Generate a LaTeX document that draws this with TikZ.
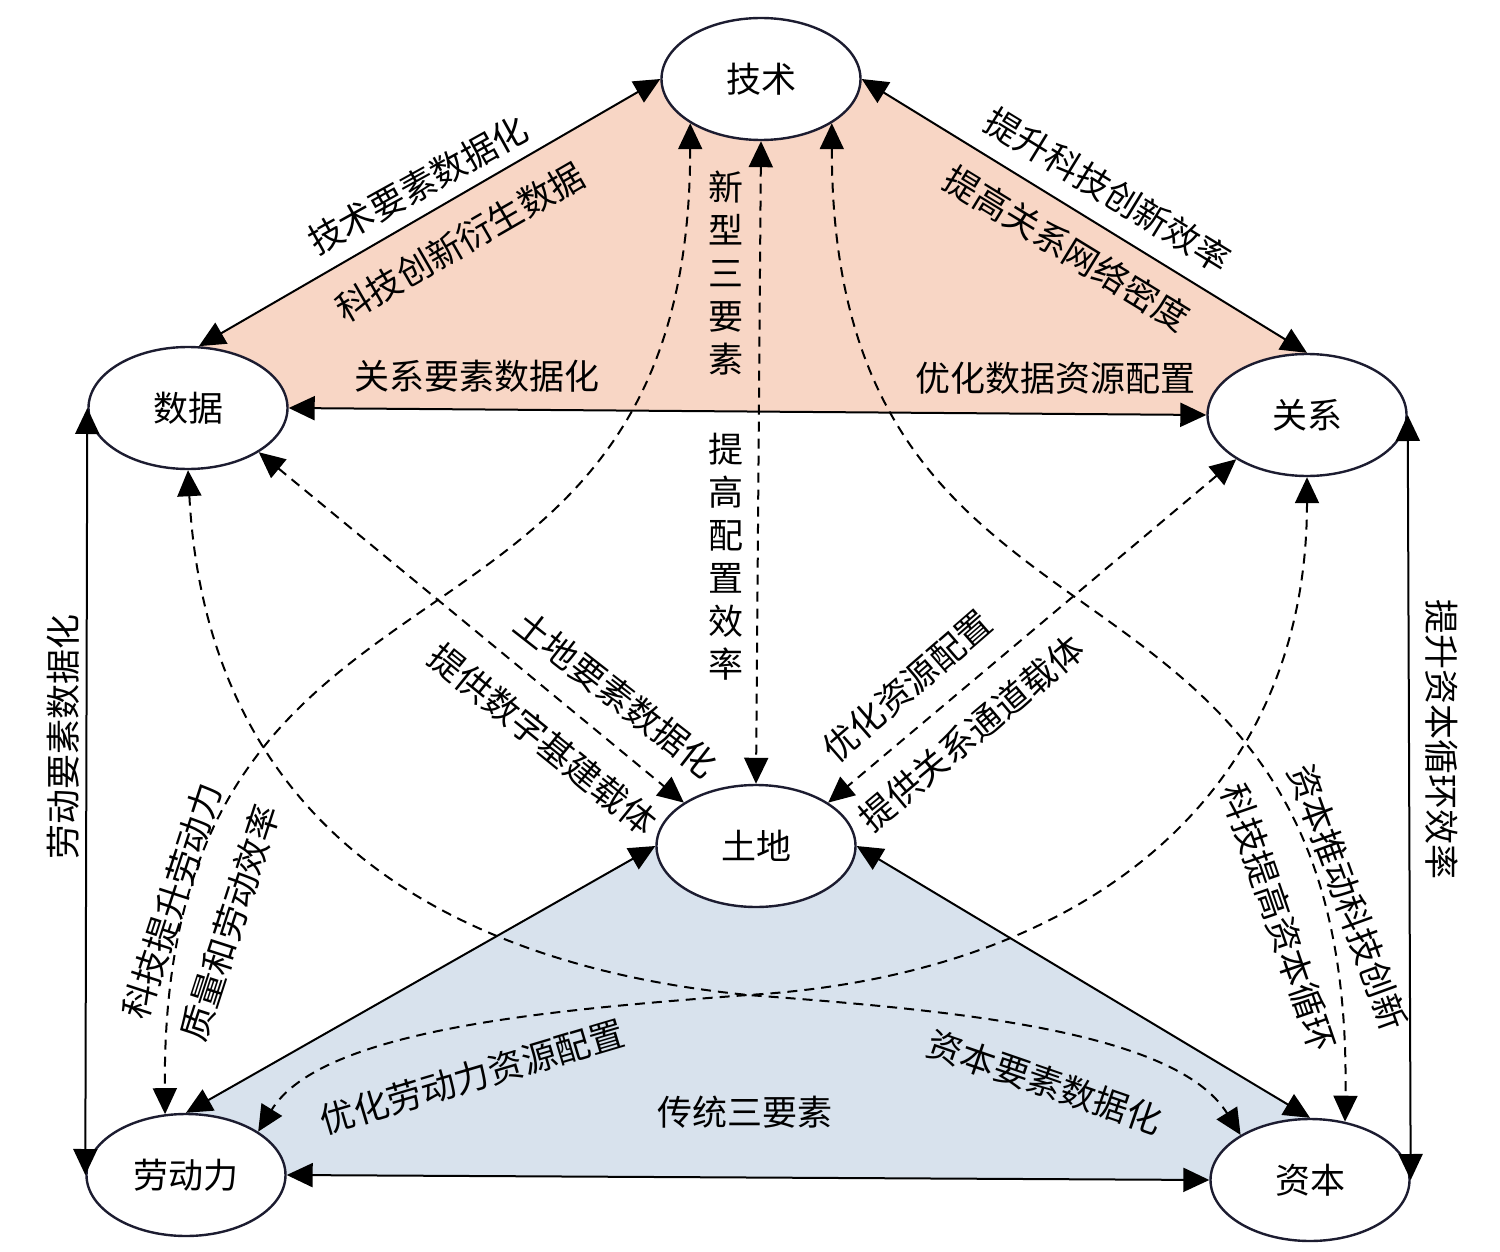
\documentclass[tikz,border=0pt]{standalone}
\usepackage{fontspec}
\newfontfamily\cjk{Noto Sans CJK SC}
\usetikzlibrary{arrows.meta,shapes.geometric,backgrounds}
\definecolor{fenhong}{RGB}{248,214,197}
\definecolor{danlan}{RGB}{216,226,237}
\definecolor{moshen}{RGB}{28,28,48}
\tikzset{
    >={Triangle[length=13pt,width=12pt]},
    ysq/.style={
        elem/.append style={ellipse,draw=moshen,line width=1.2pt,fill=white,minimum width=99.5pt,minimum height=61pt,inner sep=0pt,font=\cjk\fontsize{17.5}{21}\selectfont},
        lbl/.append style={inner sep=0pt,font=\cjk\fontsize{17.5}{21}\selectfont},
        vlbl/.append style={inner sep=0pt,align=center,font=\cjk\fontsize{17.5}{21.5}\selectfont},
        link/.append style={<->,line width=1pt},
        dlink/.append style={<->,line width=1pt,dash pattern=on 5pt off 3.5pt},
        every edge/.append style={draw}
    }
}
\begin{document}
\begin{tikzpicture}[ysq,x=0.5pt,y=-0.5pt]
    \useasboundingbox (0,0) rectangle (1500,1252);
    \node[elem] (js) at (761,79) {技术};
    \node[elem] (sj) at (188,408) {数据};
    \node[elem] (gx) at (1307,415) {关系};
    \node[elem] (td) at (756,846) {土地};
    \node[elem] (ldl) at (186,1175) {劳动力};
    \node[elem] (zb) at (1310,1180) {资本};
    \begin{scope}[on background layer]
        \fill[fenhong] (sj.80) -- (js.west) -- (js.east) -- (gx.north) -- (gx.west) -- (sj.east) -- cycle;
        \fill[danlan] (ldl.north) -- (td.west) -- (td.east) -- (zb.north) -- (zb.west) -- (ldl.east) -- cycle;
    \end{scope}
    \path (js.west) edge[link] (sj.80)
          (js.east) edge[link] (gx.north)
          (sj.east) edge[link] (gx.west)
          (sj.west) edge[link] (ldl.west)
          (gx.east) edge[link] (zb.east)
          (td.west) edge[link] (ldl.north)
          (td.east) edge[link] (zb.north)
          (ldl.east) edge[link] (zb.west);
    \path (js.south) edge[dlink] (td.north)
          (sj.-32) edge[dlink] (td.149)
          (gx.212) edge[dlink] (td.31);
    \draw[dlink] (js.212) .. controls (690,710) and (160,500) .. (ldl.109);
    \draw[dlink] (js.-32) .. controls (832,710) and (1355,500) .. (zb.59);
    \draw[dlink] (sj.south) .. controls (205,790) and (400,960) .. (748,995) .. controls (950,1010) and (1175,1030) .. (zb.147);
    \draw[dlink] (gx.south) .. controls (1307,800) and (1080,975) .. (748,995) .. controls (546,1010) and (321,1030) .. (ldl.31);
    \node[lbl,rotate=29] (l1) at (418,185) {技术要素数据化};
    \node[lbl,rotate=30] (l2) at (460,242) {科技创新衍生数据};
    \node[lbl] (l3) at (477,376) {关系要素数据化};
    \node[lbl] (l4) at (1055,378) {优化数据资源配置};
    \node[lbl,rotate=-31.5] (l5) at (1108,190) {提升科技创新效率};
    \node[lbl,rotate=-31.5] (l6) at (1067,248) {提高关系网络密度};
    \node[vlbl] (l7) at (726,273) {新\\型\\三\\要\\素};
    \node[vlbl] (l8) at (726,557) {提\\高\\配\\置\\效\\率};
    \node[lbl,rotate=-38] (l9) at (616,694) {土地要素数据化};
    \node[lbl,rotate=-39] (l10) at (543,739) {提供数字基建载体};
    \node[lbl,rotate=41] (l11) at (907,686) {优化资源配置};
    \node[lbl,rotate=40] (l12) at (971,733) {提供关系通道载体};
    \node[lbl,rotate=90] (l13) at (63,737) {劳动要素数据化};
    \node[lbl,rotate=-90] (l14) at (1442,739) {提升资本循环效率};
    \node[lbl,rotate=72] (l15) at (172,901) {科技提升劳动力};
    \node[lbl,rotate=72] (l16) at (230,923) {质量和劳动效率};
    \node[lbl,rotate=-70] (l17) at (1348,897) {资本推动科技创新};
    \node[lbl,rotate=-71] (l18) at (1279,918) {科技提高资本循环};
    \node[lbl,rotate=16.5] (l19) at (472,1077) {优化劳动力资源配置};
    \node[lbl,rotate=-19] (l20) at (1045,1082) {资本要素数据化};
    \node[lbl] (l21) at (745,1112) {传统三要素};
\end{tikzpicture}
\end{document}
